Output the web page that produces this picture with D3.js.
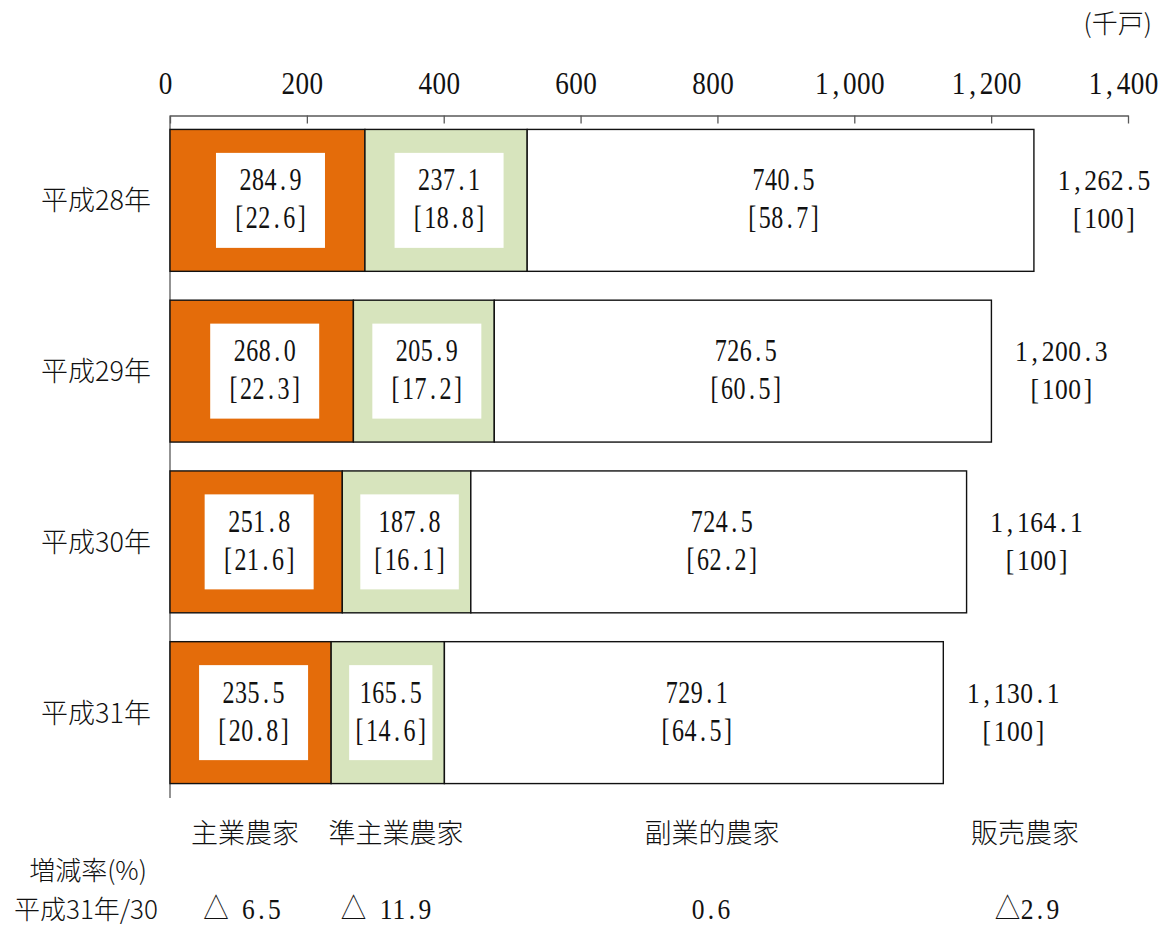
<!DOCTYPE html>
<html>
<head>
<meta charset="utf-8">
<script src="https://cdn.jsdelivr.net/npm/d3@7"></script>
<style>
  body { margin: 0; background: #fff; }
  .jp { font-family: "Noto Sans CJK JP", sans-serif; font-weight: 300; fill: #111; }
  .num { font-family: "Liberation Serif", serif; fill: #111; }
  .sym { font-family: "Noto Sans CJK JP", sans-serif; font-weight: 300; }
</style>
</head>
<body>
<div class="canvas"></div>
<script>
// data
const years = ['平成28年', '平成29年', '平成30年', '平成31年'];
const shugyo = [284.9, 268.0, 251.8, 235.5];        // 主業農家
const junShugyo = [237.1, 205.9, 187.8, 165.5];     // 準主業農家
const fukugyo = [740.5, 726.5, 724.5, 729.1];       // 副業的農家
const totals = [1262.5, 1200.3, 1164.1, 1130.1];    // 販売農家
const shugyoPct = [22.6, 22.3, 21.6, 20.8];
const junShugyoPct = [18.8, 17.2, 16.1, 14.6];
const fukugyoPct = [58.7, 60.5, 62.2, 64.5];
const categories = ['主業農家', '準主業農家', '副業的農家', '販売農家'];
const changeRates = ['△ 6.5', '△ 11.9', '0.6', '△2.9'];
const xTicks = [0, 200, 400, 600, 800, 1000, 1200, 1400];

const width = 1165, height = 928;
const colors = ['#E46C0A', '#D7E4BD', '#FFFFFF'];

const svg = d3.select('.canvas')
              .append('svg')
              .attr('width', width)
              .attr('height', height);

// scales
const x = d3.scaleLinear()
            .domain([0, 1400])
            .range([170, 1128]);
const y = d3.scaleBand()
            .domain(years)
            .range([115, 798])
            .paddingInner(0.169)
            .paddingOuter(0.0845);

// lay characters out in fixed half-width cells (like a japanese mincho font)
// text must already carry translate(cx,y) scale(sx,1)
const fillCells = (t, str, cell, sx) => {
    const chars = Array.from(str);
    const ws = chars.map(c => (c.charCodeAt(0) > 255 ? 2 : 1));
    const total = d3.sum(ws);
    let acc = 0;
    t.text(null);
    chars.forEach((c, i) => {
        const center = (acc + ws[i] / 2 - total / 2) * cell;
        acc += ws[i];
        if (c === ' ') return;
        t.append('tspan')
         .attr('x', center / sx)
         .attr('class', ws[i] > 1 ? 'sym' : null)
         .text(c);
    });
    return total * cell;
};

const numText = (g, cx, cy, str, size, sx, cell) => {
    const t = g.append('text')
               .attr('class', 'num')
               .attr('font-size', size)
               .attr('text-anchor', 'middle')
               .attr('transform', `translate(${cx},${cy}) scale(${sx},1)`);
    return fillCells(t, str, cell, sx);
};

// top axis
const xAxis = d3.axisTop(x)
                .tickValues(xTicks)
                .tickSizeInner(-8)
                .tickSizeOuter(0)
                .tickPadding(22)
                .tickFormat(d3.format(','));

const xAxisGroup = svg.append('g')
                      .attr('transform', 'translate(0, 115.5)')
                      .call(xAxis);
xAxisGroup.select('.domain').attr('stroke', '#595959').attr('stroke-width', 1.3);
xAxisGroup.selectAll('.tick line').attr('stroke', '#595959').attr('stroke-width', 1.3);
xAxisGroup.selectAll('.tick text')
          .attr('class', 'num')
          .attr('font-size', 32)
          .attr('fill', '#111')
          .attr('y', null)
          .attr('dy', null)
          .attr('transform', 'translate(-5,-22) scale(0.85,1)')
          .each(function(d) {
              fillCells(d3.select(this), d3.format(',')(d), 14, 0.85);
          });

// left axis line
svg.append('line')
   .attr('x1', x(0)).attr('x2', x(0))
   .attr('y1', 115.5).attr('y2', 798)
   .attr('stroke', '#595959')
   .attr('stroke-width', 1.3);

// stacked segments
const rows = years.map((yr, i) => ({
    year: yr,
    segs: [
        { v: shugyo[i], p: shugyoPct[i] },
        { v: junShugyo[i], p: junShugyoPct[i] },
        { v: fukugyo[i], p: fukugyoPct[i] }
    ],
    total: totals[i]
}));
rows.forEach(r => {
    let acc = 0;
    r.segs.forEach((s, j) => { s.x0 = acc; acc += s.v; s.x1 = acc; s.k = j; });
});

const fmt1 = d3.format('.1f');
const fmtT = d3.format(',.1f');

const rowGroups = svg.selectAll('g.row')
                     .data(rows)
                     .enter()
                     .append('g')
                     .attr('class', 'row');

rowGroups.each(function(r) {
    const g = d3.select(this);
    const top = y(r.year);
    const bh = y.bandwidth();
    const cy = top + bh / 2;

    g.selectAll('rect.seg')
     .data(r.segs)
     .enter()
     .append('rect')
     .attr('class', 'seg')
     .attr('x', d => x(d.x0))
     .attr('y', top)
     .attr('width', d => x(d.x1) - x(d.x0))
     .attr('height', bh)
     .attr('fill', d => colors[d.k])
     .attr('stroke', '#111')
     .attr('stroke-width', 1.4);

    r.segs.forEach(s => {
        const cx = (x(s.x0) + x(s.x1)) / 2;
        const segW = x(s.x1) - x(s.x0);
        const lab = g.append('g');
        let box = null;
        if (s.k < 2) box = lab.append('rect').attr('fill', '#fff');
        const w1 = numText(lab, cx + 3, cy - 10, fmt1(s.v), 32, 0.75, 12.5);
        const w2 = numText(lab, cx + 3, cy + 28, '[' + fmt1(s.p) + ']', 32, 0.75, 12.5);
        if (box) {
            const bw = Math.min(Math.max(w1, w2) + 34, segW - 30);
            const bhh = 95;
            box.attr('x', cx + 3 - bw / 2)
               .attr('y', cy - bhh / 2)
               .attr('width', bw)
               .attr('height', bhh);
        }
    });

    // total label
    const tx = x(r.total) + 70;
    numText(g, tx, cy - 10, fmtT(r.total), 30, 0.85, 13.3);
    numText(g, tx, cy + 28, '[100]', 30, 0.85, 13.3);

    // year label
    g.append('text')
     .attr('class', 'jp')
     .attr('font-size', 27)
     .attr('text-anchor', 'end')
     .attr('x', 151)
     .attr('y', cy + 10)
     .text(r.year);
});

// unit
svg.append('text')
   .attr('class', 'jp')
   .attr('font-size', 26)
   .attr('text-anchor', 'end')
   .attr('x', 1152)
   .attr('y', 33)
   .text('(千戸)');

// category labels and change rates underneath
const catX = [245, 396, 712, 1025];
const rateX = [242, 386, 711, 1027];

svg.selectAll('text.cat')
   .data(categories)
   .enter()
   .append('text')
   .attr('class', 'jp cat')
   .attr('font-size', 27)
   .attr('text-anchor', 'middle')
   .attr('x', (d, i) => catX[i])
   .attr('y', 843)
   .text(d => d);

changeRates.forEach((d, i) => {
    numText(svg, rateX[i], 919, d, 30, 0.85, 13);
});

svg.append('text')
   .attr('class', 'jp')
   .attr('font-size', 26)
   .attr('text-anchor', 'middle')
   .attr('x', 88)
   .attr('y', 880)
   .text('増減率(%)');

svg.append('text')
   .attr('class', 'jp')
   .attr('font-size', 26)
   .attr('text-anchor', 'middle')
   .attr('x', 86)
   .attr('y', 919)
   .text('平成31年/30');
</script>
</body>
</html>
